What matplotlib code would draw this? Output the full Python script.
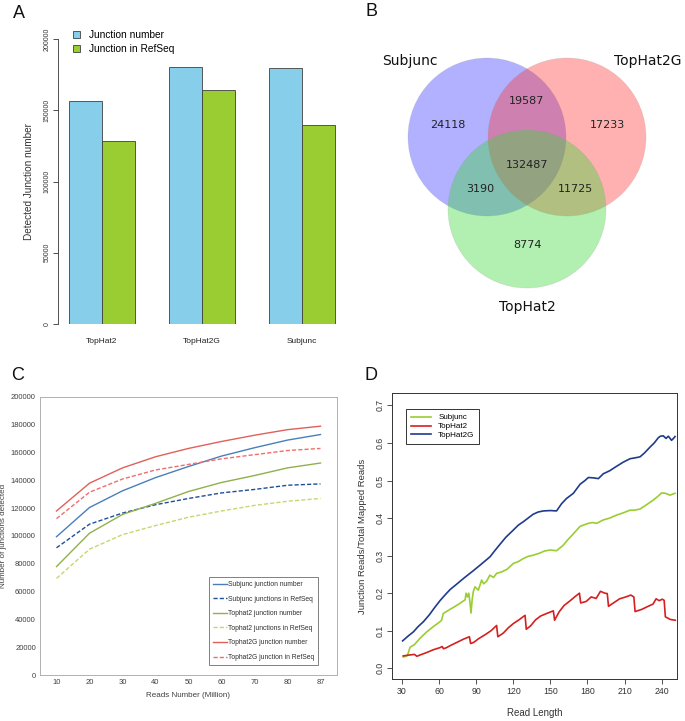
import numpy as np
import matplotlib
matplotlib.use("Agg")
import matplotlib.pyplot as plt
import matplotlib.patches as mpatches

# ── Figure geometry (pixels) ───────────────────────────────────
W, H = 685, 721
R_FONT = "Liberation Sans"

# ── Panel A: detected junctions per aligner ────────────────────
tools_a = ["TopHat2", "TopHat2G", "Subjunc"]
junction_number = [156500, 180600, 179300]
junction_refseq = [128200, 164300, 139900]

# ── Panel B: Venn overlap counts ───────────────────────────────
venn_sets = ["Subjunc", "TopHat2G", "TopHat2"]
only_subjunc = 24118
only_tophat2g = 17233
only_tophat2 = 8774
subjunc_tophat2g = 19587
subjunc_tophat2 = 3190
tophat2g_tophat2 = 11725
all_three = 132487

# ── Panel C: junctions vs sequencing depth ─────────────────────
reads_million = ["10", "20", "30", "40", "50", "60", "70", "80", "87"]
subjunc_num = [99500, 120500, 132500, 142000, 150000, 157500, 163500, 169000, 173000]
subjunc_ref = [91500, 108500, 116500, 122500, 127000, 131000, 133500, 136500, 137500]
tophat2_num = [78000, 102000, 115500, 123500, 132000, 138500, 143500, 149000, 152500]
tophat2_ref = [69500, 90500, 101000, 107500, 113500, 118000, 122000, 125000, 127000]
tophat2g_num = [118000, 138000, 149000, 157000, 163000, 168000, 172500, 176500, 179000]
tophat2g_ref = [112500, 131500, 141000, 147500, 151500, 155500, 158500, 161500, 163000]

# ── Panel D: junction read fraction vs read length ─────────────
subjunc_len = [31, 34, 35, 36.5, 40, 44.6, 50, 55.3, 60.7, 62, 63.4, 68.8, 72, 76.9, 79,
               81, 81.8, 83, 84, 85, 85.8, 86.8, 87.7, 89, 91.7, 94.4, 96, 98.5, 101,
               104, 106.6, 110, 114.7, 120, 124, 128, 132, 136, 141.6, 145, 149.7, 155,
               160.5, 164, 168.6, 174, 180.7, 184, 187.4, 192.8, 198, 203.6, 209, 214.4,
               218, 222.5, 228, 233.3, 237, 240, 243, 246.7, 250.8]
subjunc_frac = [0.030, 0.033, 0.040, 0.056, 0.063, 0.080, 0.097, 0.111, 0.124, 0.128, 0.146,
                0.157, 0.163, 0.173, 0.178, 0.182, 0.200, 0.190, 0.200, 0.175, 0.147,
                0.185, 0.205, 0.217, 0.208, 0.235, 0.225, 0.232, 0.248, 0.242, 0.253,
                0.256, 0.263, 0.279, 0.284, 0.292, 0.298, 0.301, 0.307, 0.312, 0.315,
                0.313, 0.328, 0.342, 0.358, 0.378, 0.386, 0.388, 0.386, 0.395, 0.400,
                0.408, 0.414, 0.421, 0.421, 0.424, 0.436, 0.448, 0.458, 0.467, 0.466,
                0.461, 0.466]

tophat2_len = [31, 35, 40, 42, 45, 50, 55, 60.7, 62.5, 63.5, 66, 70, 75, 80, 84.5, 85.5,
               88, 92, 97, 102, 106.5, 107.5, 112, 116, 120, 125, 129.5, 130.5, 134,
               138, 142, 147, 152.4, 153.4, 157, 161, 166, 170, 173.5, 174.5, 179, 183,
               187, 190.5, 194, 196, 197, 201, 206, 211, 215, 217.5, 218.5, 224, 229,
               233, 235.5, 238, 240.5, 242, 243, 247, 251]
tophat2_frac = [0.033, 0.035, 0.037, 0.032, 0.036, 0.042, 0.049, 0.055, 0.058, 0.052,
                0.055, 0.062, 0.070, 0.078, 0.084, 0.066, 0.069, 0.079, 0.089, 0.100,
                0.114, 0.084, 0.094, 0.108, 0.119, 0.130, 0.141, 0.104, 0.113, 0.129,
                0.139, 0.146, 0.153, 0.128, 0.150, 0.167, 0.180, 0.191, 0.200, 0.174,
                0.178, 0.190, 0.186, 0.205, 0.200, 0.199, 0.165, 0.174, 0.185, 0.190,
                0.195, 0.190, 0.151, 0.157, 0.165, 0.171, 0.185, 0.180, 0.184, 0.181,
                0.137, 0.130, 0.128]

tophat2g_len = [30.5, 35, 39.2, 43, 47.3, 52, 56, 60.7, 65, 69, 74.2, 80, 87.7, 94,
                101.2, 105, 109.2, 114, 120, 124, 128, 132, 136, 140, 144.3, 150, 155,
                159, 163, 168.6, 174, 178, 180.7, 185, 188.8, 192.8, 198, 203.6, 209,
                214.4, 218, 222.5, 226, 230.6, 234, 237.3, 239, 241.3, 243.5, 245.4, 248,
                249.5, 250.8]
tophat2g_frac = [0.073, 0.086, 0.097, 0.111, 0.124, 0.142, 0.160, 0.180, 0.196, 0.210,
                 0.224, 0.240, 0.260, 0.277, 0.297, 0.313, 0.330, 0.349, 0.368, 0.381,
                 0.390, 0.400, 0.410, 0.416, 0.419, 0.420, 0.419, 0.438, 0.452, 0.466,
                 0.490, 0.500, 0.508, 0.507, 0.505, 0.518, 0.526, 0.538, 0.549, 0.558,
                 0.560, 0.563, 0.573, 0.589, 0.600, 0.614, 0.618, 0.619, 0.612, 0.618,
                 0.607, 0.612, 0.617]


def px_axes(fig, left, top, right, bottom):
    """Add an axes given its box in pixel coordinates (origin top-left)."""
    return fig.add_axes([left / W, 1 - bottom / H, (right - left) / W, (bottom - top) / H])


fig = plt.figure(figsize=(W / 100, H / 100), dpi=100)

# ── Panel A ────────────────────────────────────────────────────
axA = px_axes(fig, 58, 39, 346, 324)
groups = np.arange(len(tools_a)) * 3 + 2   # R barplot(beside=TRUE) layout
axA.bar(groups - 0.5, junction_number, width=1, color="#87ceeb",
        edgecolor="#404040", linewidth=0.6)
axA.bar(groups + 0.5, junction_refseq, width=1, color="#9acd32",
        edgecolor="#404040", linewidth=0.6)
axA.set_xlim(0.68, 9.32)
axA.set_ylim(0, 200000)
for s in ["top", "right", "bottom"]:
    axA.spines[s].set_visible(False)
axA.spines["left"].set_color("#333333")
axA.spines["left"].set_linewidth(0.6)
axA.set_yticks(np.arange(0, 200001, 50000))
axA.set_yticklabels([str(v) for v in range(0, 200001, 50000)], rotation=90,
                    va="center", fontsize=5, family=R_FONT, color="#333333")
axA.tick_params(axis="y", length=3.5, width=0.6, color="#333333", pad=2)
axA.set_xticks(groups)
axA.set_xticklabels(tools_a, fontsize=6, family=R_FONT, color="#222222")
axA.tick_params(axis="x", length=0, pad=10)
axA.set_ylabel("Detected Junction number", fontsize=7.2, family=R_FONT,
               color="#333333", labelpad=7)
handles_a = [mpatches.Patch(facecolor="#87ceeb", edgecolor="#404040", linewidth=0.6,
                            label="Junction number"),
             mpatches.Patch(facecolor="#9acd32", edgecolor="#404040", linewidth=0.6,
                            label="Junction in RefSeq")]
fig.legend(handles=handles_a, loc="upper left", bbox_to_anchor=(73 / W, 1 - 30 / H),
           frameon=False, prop={"family": R_FONT, "size": 7.3},
           handlelength=0.7, handleheight=0.7, handletextpad=0.9, labelspacing=0.4,
           borderaxespad=0, borderpad=0)

# ── Panel B (Venn) ─────────────────────────────────────────────
axB = px_axes(fig, 340, 0, 685, 360)
axB.set_xlim(340, 685)
axB.set_ylim(360, 0)
axB.axis("off")
cx, top_y, bot_y, spread, radius = 527, 137, 209, 40, 79
centres = [(cx - spread, top_y), (cx + spread, top_y), (cx, bot_y)]
fills = [(0.2, 0.2, 1.0, 0.38), (1.0, 0.2, 0.2, 0.38), (0.2, 0.85, 0.2, 0.38)]
for (x0, y0), fc in zip(centres, fills):
    axB.add_patch(mpatches.Circle((x0, y0), radius, facecolor=fc,
                                  edgecolor=(0.6, 0.6, 0.6, 0.25), linewidth=0.5))
num_kw = dict(ha="center", va="center", fontsize=8, family="DejaVu Sans", color="#222222")
axB.text(cx - 79, 125, f"{only_subjunc}", **num_kw)
axB.text(cx, 101, f"{subjunc_tophat2g}", **num_kw)
axB.text(cx + 80, 125, f"{only_tophat2g}", **num_kw)
axB.text(cx, 165, f"{all_three}", **num_kw)
axB.text(cx - 47, 189, f"{subjunc_tophat2}", **num_kw)
axB.text(cx + 48, 189, f"{tophat2g_tophat2}", **num_kw)
axB.text(cx, 245, f"{only_tophat2}", **num_kw)
lab_kw = dict(ha="center", va="center", fontsize=10, family="DejaVu Sans", color="#111111")
axB.text(410, 61, venn_sets[0], **lab_kw)
axB.text(648, 61, venn_sets[1], **lab_kw)
axB.text(527, 307, venn_sets[2], **lab_kw)

# ── Panel C ────────────────────────────────────────────────────
axC = px_axes(fig, 40, 397, 337, 675)
xc = np.arange(len(reads_million))
c_series = [
    (subjunc_num, "#4a7ebb", "-", "Subjunc junction number"),
    (subjunc_ref, "#1f4f95", "--", "Subjunc junctions in RefSeq"),
    (tophat2_num, "#8fb04c", "-", "Tophat2 junction number"),
    (tophat2_ref, "#c4d86e", "--", "Tophat2 junctions in RefSeq"),
    (tophat2g_num, "#e0605a", "-", "Tophat2G junction number"),
    (tophat2g_ref, "#ef6f6a", "--", "Tophat2G junction in RefSeq"),
]
for vals, col, ls, lab in c_series:
    axC.plot(xc, vals, color=col, linestyle=ls, linewidth=1.0, label=lab,
             dashes=(3, 1.5) if ls == "--" else (None, None))
axC.set_xlim(-0.5, len(reads_million) - 0.5)
axC.set_ylim(0, 200000)
axC.set_xticks(xc)
axC.set_xticklabels(reads_million)
axC.set_yticks(np.arange(0, 200001, 20000))
axC.tick_params(length=0, labelsize=5.5, labelcolor="#404040", pad=3)
for lab in axC.get_xticklabels() + axC.get_yticklabels():
    lab.set_family(R_FONT)
for s in axC.spines.values():
    s.set_color("#b0b0b0")
    s.set_linewidth(0.7)
axC.set_xlabel("Reads Number (Million)", fontsize=5.8, family=R_FONT, color="#404040",
               labelpad=4)
axC.set_ylabel("Number of junctions detected", fontsize=5.8, family=R_FONT,
               color="#404040")
axC.yaxis.set_label_coords(-0.112, 0.5)
legC = axC.legend(loc="upper left", bbox_to_anchor=(0.569, 0.353), borderaxespad=0,
                  prop={"family": R_FONT, "size": 4.9}, fancybox=False,
                  handlelength=2.1, handletextpad=0.1, labelspacing=1.12,
                  borderpad=0.6, framealpha=1)
legC.get_frame().set_edgecolor("#808080")
legC.get_frame().set_linewidth(0.7)
for t in legC.get_texts():
    t.set_color("#303030")

# ── Panel D ────────────────────────────────────────────────────
axD = px_axes(fig, 392, 393, 677, 679)
axD.plot(subjunc_len, subjunc_frac, color="#9acd32", linewidth=1.2, label="Subjunc")
axD.plot(tophat2_len, tophat2_frac, color="#d42020", linewidth=1.2, label="TopHat2")
axD.plot(tophat2g_len, tophat2g_frac, color="#1f3c8c", linewidth=1.2, label="TopHat2G")
axD.set_xlim(21.9, 252.4)
axD.set_ylim(-0.0285, 0.733)
axD.set_xticks(np.arange(30, 241, 30))
axD.set_yticks(np.arange(0, 0.71, 0.1))
axD.set_yticklabels([f"{v:.1f}" for v in np.arange(0, 0.71, 0.1)], rotation=90, va="center")
axD.tick_params(length=3.5, width=0.6, color="#333333", labelsize=6.3,
                labelcolor="#333333", pad=2)
for lab in axD.get_xticklabels() + axD.get_yticklabels():
    lab.set_family(R_FONT)
for s in axD.spines.values():
    s.set_color("#333333")
    s.set_linewidth(0.7)
axD.set_xlabel("Read Length", fontsize=7, family=R_FONT, color="#333333", labelpad=9)
axD.set_ylabel("Junction Reads/Total Mapped Reads", fontsize=6.8, family=R_FONT,
               color="#333333", labelpad=6)
legD = axD.legend(loc="upper left", bbox_to_anchor=(0.049, 0.944), borderaxespad=0,
                  prop={"family": R_FONT, "size": 5.8}, fancybox=False,
                  handlelength=2.5, handletextpad=0.9, labelspacing=0.15,
                  borderpad=0.6, framealpha=1)
legD.get_frame().set_edgecolor("#333333")
legD.get_frame().set_linewidth(0.7)

# ── Panel letters ──────────────────────────────────────────────
for letter, (lx, ly) in {"A": (19, 14), "B": (371, 12), "C": (18, 375), "D": (371, 375)}.items():
    fig.text(lx / W, 1 - ly / H, letter, fontsize=13, family=R_FONT,
             ha="center", va="center", color="#111111")

fig.savefig("out.png", dpi=100)
